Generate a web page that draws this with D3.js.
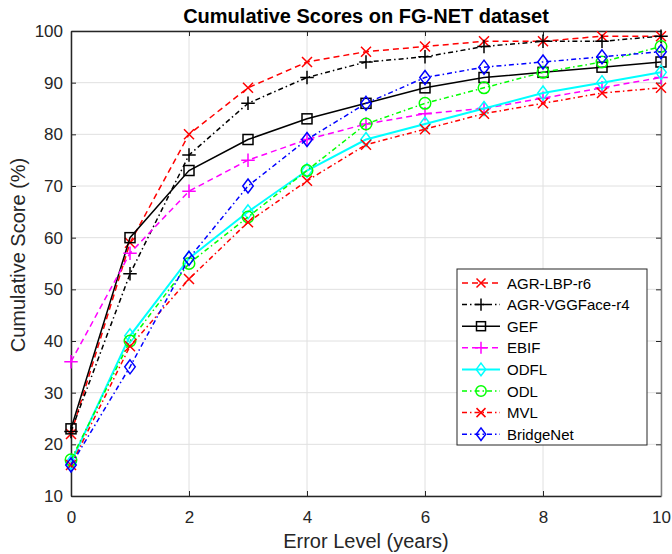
<!DOCTYPE html>
<html><head><meta charset="utf-8">
<script src="https://cdn.jsdelivr.net/npm/d3@7"></script>
<style>body{margin:0;background:#fff;} text{font-family:"Liberation Sans",Arial,sans-serif;}</style>
</head><body>
<svg id="c" width="672" height="554"></svg>
<script>
const errorLevels = [0,1,2,3,4,5,6,7,8,9,10];
const xTicks = [0,2,4,6,8,10];
const yTicks = [10,20,30,40,50,60,70,80,90,100];
const seriesNames = ["AGR-LBP-r6","AGR-VGGFace-r4","GEF","EBIF","ODFL","ODL","MVL","BridgeNet"];
const agrLbp     = [22, 59, 80, 89, 94, 96, 97, 98, 98, 99, 99];
const agrVgg     = [22.5, 53, 76, 86, 91, 94, 95, 97, 98, 98, 99];
const gef        = [23, 60, 73, 79, 83, 86, 89, 91, 92, 93, 94];
const ebif       = [36, 57, 69, 75, 79, 82, 84, 85, 87, 89, 91];
const odfl       = [16.5, 41, 56, 65, 73, 79, 82, 85, 88, 90, 92];
const odl        = [17, 40, 55, 64, 73, 82, 86, 89, 92, 94, 97];
const mvl        = [16, 39, 52, 63, 71, 78, 81, 84, 86, 88, 89];
const bridgeNet  = [16, 35, 56, 70, 79, 86, 91, 93, 94, 95, 96];
const seriesValues = [agrLbp, agrVgg, gef, ebif, odfl, odl, mvl, bridgeNet];
const seriesColors = ["#ff0000","#000000","#000000","#ff00ff","#00ffff","#00ff00","#ff0000","#0000ff"];
const seriesDash = ["6,4","5,3,1.5,3",null,"6,4",null,"5,3,1.5,3","5,3,1.5,3","5,3,1.5,3"];
const seriesMarker = ["x","plus","square","plus","diamond","circle","x","diamond"];
const seriesWidth = [1.5,1.5,1.5,1.5,2,1.5,1.5,1.5];

const svg = d3.select("#c");
const L=71, R=661, T=31, B=496;
const x = d3.scaleLinear().domain([0,10]).range([L,R]);
const y = d3.scaleLinear().domain([10,100]).range([B,T]);

// grid
const g = svg.append("g");
g.selectAll(".gx").data(xTicks).enter().append("line")
  .attr("x1",d=>x(d)).attr("x2",d=>x(d)).attr("y1",T).attr("y2",B)
  .attr("stroke","#e0e0e0").attr("stroke-width",1);
g.selectAll(".gy").data(yTicks).enter().append("line")
  .attr("x1",L).attr("x2",R).attr("y1",d=>y(d)).attr("y2",d=>y(d))
  .attr("stroke","#e0e0e0").attr("stroke-width",1);

// axes
const xAxis = d3.axisBottom(x).tickValues(xTicks).tickSizeInner(-5).tickSizeOuter(0).tickPadding(15);
const yAxis = d3.axisLeft(y).tickValues(yTicks).tickSizeInner(-5).tickSizeOuter(0).tickPadding(8);
const gx = svg.append("g").attr("transform",`translate(0,${B})`).call(xAxis);
const gy = svg.append("g").attr("transform",`translate(${L},0)`).call(yAxis);
const gx2 = svg.append("g").attr("transform",`translate(0,${T})`).call(d3.axisTop(x).tickValues(xTicks).tickSizeInner(-5).tickSizeOuter(0).tickFormat(""));
const gy2 = svg.append("g").attr("transform",`translate(${R},0)`).call(d3.axisRight(y).tickValues(yTicks).tickSizeInner(-5).tickSizeOuter(0).tickFormat(""));
[gx,gy].forEach(a=>{a.selectAll("text").attr("font-size",17).attr("fill","#262626").attr("font-family","Liberation Sans, Arial, sans-serif");});
[gx,gy,gx2,gy2].forEach(a=>{a.select(".domain").attr("stroke","#262626").attr("stroke-width",1.5);a.selectAll(".tick line").attr("stroke","#262626");});
gy2.select(".domain").attr("stroke","#808080");

// clip
svg.append("clipPath").attr("id","clip").append("rect").attr("x",L-8).attr("y",T-8).attr("width",R-L+16).attr("height",B-T+16);

function drawMarker(sel, type, color, size){
  const s=size;
  if(type==="x"){
    sel.append("path").attr("d",`M${-s},${-s}L${s},${s}M${-s},${s}L${s},${-s}`).attr("stroke",color).attr("stroke-width",1.5).attr("fill","none");
  } else if(type==="plus"){
    const p=s*1.35;
    sel.append("path").attr("d",`M${-p},0L${p},0M0,${-p}L0,${p}`).attr("stroke",color).attr("stroke-width",1.5).attr("fill","none");
  } else if(type==="square"){
    sel.append("rect").attr("x",-s).attr("y",-s).attr("width",2*s).attr("height",2*s).attr("stroke",color).attr("stroke-width",1.5).attr("fill","none");
  } else if(type==="diamond"){
    const p=s*1.4;
    sel.append("path").attr("d",`M0,${-p}L${p*0.75},0L0,${p}L${-p*0.75},0Z`).attr("stroke",color).attr("stroke-width",1.5).attr("fill","none");
  } else if(type==="circle"){
    sel.append("circle").attr("r",s*1.15).attr("stroke",color).attr("stroke-width",1.5).attr("fill","none");
  }
}

const line = d3.line().x((d,i)=>x(errorLevels[i])).y(d=>y(d));
const plot = svg.append("g").attr("clip-path","url(#clip)");
seriesValues.forEach((vals,k)=>{
  const sg = plot.append("g");
  sg.append("path").datum(vals).attr("d",line).attr("fill","none")
    .attr("stroke",seriesColors[k]).attr("stroke-width",seriesWidth[k])
    .attr("stroke-dasharray",seriesDash[k]);
  vals.forEach((v,i)=>{
    const m = sg.append("g").attr("transform",`translate(${x(errorLevels[i])},${y(v)})`);
    drawMarker(m, seriesMarker[k], seriesColors[k], 5);
  });
});

// title
svg.append("text").attr("x",366).attr("y",23).attr("text-anchor","middle")
  .attr("font-size",20).attr("font-weight","bold").attr("fill","#000").text("Cumulative Scores on FG-NET dataset");
svg.append("text").attr("x",366).attr("y",548).attr("text-anchor","middle")
  .attr("font-size",20).attr("fill","#262626").text("Error Level (years)");
svg.append("text").attr("transform",`translate(25,255) rotate(-90)`).attr("text-anchor","middle")
  .attr("font-size",20).attr("fill","#262626").text("Cumulative Score (%)");

// legend
const lg = svg.append("g");
lg.append("rect").attr("x",457).attr("y",269).attr("width",190).attr("height",176)
  .attr("fill","#fff").attr("stroke","#262626").attr("stroke-width",1);
seriesNames.forEach((name,k)=>{
  const yy = 283 + k*21.6;
  lg.append("line").attr("x1",462).attr("x2",500).attr("y1",yy).attr("y2",yy)
    .attr("stroke",seriesColors[k]).attr("stroke-width",seriesWidth[k])
    .attr("stroke-dasharray",seriesDash[k]);
  const m = lg.append("g").attr("transform",`translate(481,${yy})`);
  drawMarker(m, seriesMarker[k], seriesColors[k], 4.5);
  lg.append("text").attr("x",507).attr("y",yy+5.5).attr("font-size",15).attr("fill","#000").text(name);
});
</script>
</body></html>
